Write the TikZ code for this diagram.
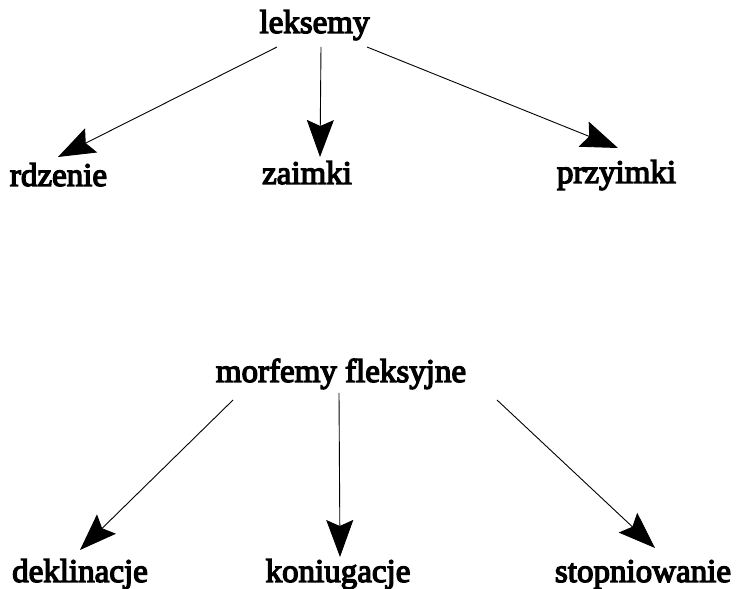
\documentclass[tikz,border=0pt]{standalone}
\usepackage{fontspec}
\setmainfont{Liberation Serif}[FakeBold=4]
\usetikzlibrary{arrows.meta}
\begin{document}
\begin{tikzpicture}[x=1pt,y=1pt,
  lbl/.style={anchor=base,inner sep=0pt,font=\fontsize{33}{40}\selectfont},
  arr/.style={line width=0.9pt,-{Stealth[length=37pt,width=27pt,inset=6pt]}}]
\useasboundingbox (0,0) rectangle (739,589);
\node[lbl] (lek) at (314.5,556) {leksemy};
\node[lbl] (rdz) at (58.5,403) {rdzenie};
\node[lbl] (zai) at (307,405) {zaimki};
\node[lbl] (prz) at (616.5,406) {przyimki};
\node[lbl] (mor) at (341,207) {morfemy fleksyjne};
\node[lbl] (dek) at (80,7) {deklinacje};
\node[lbl] (kon) at (338,7) {koniugacje};
\node[lbl] (sto) at (643,7) {stopniowanie};
\draw[arr] ([shift={(-37.5,-14)}]lek.base) -- ([shift={(-0.5,29)}]rdz.base);
\draw[arr] ([shift={(6.5,-14)}]lek.base) -- ([shift={(13,27)}]zai.base);
\draw[arr] ([shift={(52.5,-14)}]lek.base) -- ([shift={(1.5,35)}]prz.base);
\draw[arr] ([shift={(-108,-18)}]mor.base) -- ([shift={(0,32)}]dek.base);
\draw[arr] ([shift={(-2,-11)}]mor.base) -- ([shift={(2,25)}]kon.base);
\draw[arr] ([shift={(156,-18)}]mor.base) -- ([shift={(12,34)}]sto.base);
\end{tikzpicture}
\end{document}
